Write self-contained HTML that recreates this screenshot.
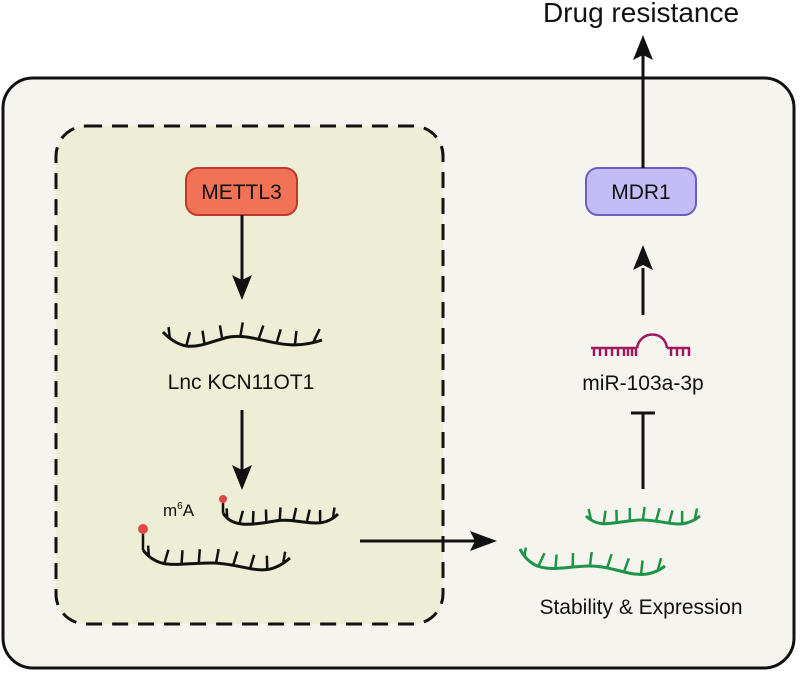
<!DOCTYPE html>
<html><head><style>
body{margin:0;background:#fff;}
svg{display:block;font-family:"Liberation Sans",Arial,sans-serif;}
</style></head><body>
<svg id="s" width="800" height="673" viewBox="0 0 800 673">
<rect x="3" y="78" width="791" height="590" rx="30" fill="#f5f4ef" stroke="#111" stroke-width="3"/>
<rect x="56" y="126" width="387" height="498" rx="30" fill="#eeeed6" stroke="#111" stroke-width="3" stroke-dasharray="16,10"/>
<text x="641" y="22" font-size="28" text-anchor="middle" fill="#111">Drug resistance</text>
<rect x="186" y="168" width="111" height="47" rx="12" fill="#f07358" stroke="#c0392b" stroke-width="2"/>
<text x="241.5" y="199" font-size="21" text-anchor="middle" fill="#111">METTL3</text>
<rect x="586" y="168" width="110" height="47" rx="12" fill="#c3bcf6" stroke="#6b5fbf" stroke-width="2"/>
<text x="641" y="199" font-size="21" text-anchor="middle" fill="#111">MDR1</text>
<g stroke="#111" stroke-width="3" fill="#111">
<line x1="242" y1="215" x2="242" y2="280"/><polygon points="232,275 242,280 252,275 242,300" stroke="none"/>
<line x1="242" y1="410" x2="242" y2="470"/><polygon points="232,465 242,470 252,465 242,490" stroke="none"/>
<line x1="360" y1="541" x2="475" y2="541"/><polygon points="470,531 475,541 470,551 497,541" stroke="none"/>
<line x1="643" y1="315" x2="643" y2="268"/><polygon points="633,270 643,265 653,270 643,245" stroke="none"/>
<line x1="643" y1="168" x2="643" y2="55"/><polygon points="633,60 643,55 653,60 643,35" stroke="none"/>
<line x1="643" y1="413" x2="643" y2="489"/><line x1="631" y1="413" x2="655" y2="413"/>
</g>
<text x="241" y="389" font-size="21" text-anchor="middle" fill="#111">Lnc KCN11OT1</text>
<text x="643" y="390" font-size="21" text-anchor="middle" fill="#111">miR-103a-3p</text>
<text x="641" y="614" font-size="21" text-anchor="middle" fill="#111">Stability &amp; Expression</text>
<text x="163" y="516" font-size="17" fill="#111">m<tspan font-size="10" dy="-7">6</tspan><tspan dy="7">A</tspan></text>
<line x1="223" y1="500" x2="223" y2="513" stroke="#111" stroke-width="2.5"/>
<circle cx="223" cy="499" r="4" fill="#e04848"/>
<line x1="143" y1="530" x2="143" y2="550" stroke="#111" stroke-width="2.5"/>
<circle cx="143" cy="529" r="5" fill="#e04848"/>
<g stroke="#a0185f" stroke-width="2.5" fill="none">
<line x1="591" y1="348" x2="637" y2="348"/>
<line x1="667" y1="348" x2="690" y2="348"/>
<path d="M637,348 C640,330 665,330 667,348"/>
<path d="M594,348v8M600,348v8M606,348v8M612,348v8M618,348v8M624,348v8M628,348v8M632,348v8M636,348v8M671,348v8M677,348v8M683,348v8M689,348v8"/>
</g>
<g id="rna"></g>
</svg>
<script>
var ns="http://www.w3.org/2000/svg",g=document.getElementById("rna");
function rna(d,col,n,len){
 var p=document.createElementNS(ns,"path");p.setAttribute("d",d);p.setAttribute("fill","none");p.setAttribute("stroke",col);p.setAttribute("stroke-width","3");g.appendChild(p);
 var L=p.getTotalLength(),s="";
 for(var i=0;i<n;i++){var t=L*(i+0.5)/n,a=p.getPointAtLength(t),b=p.getPointAtLength(Math.min(L,t+1));
  var dx=b.x-a.x,dy=b.y-a.y,m=Math.hypot(dx,dy)||1,nx=dy/m,ny=-dx/m; if(ny>0){nx=-nx;ny=-ny;}
  var k=(i==0)?-0.7:(i==n-1?0.7:0.12);
  var ex=a.x+(nx+k)*len,ey=a.y+ny*len;
  s+="M"+a.x+","+a.y+"L"+ex+","+ey;}
 var q=document.createElementNS(ns,"path");q.setAttribute("d",s);q.setAttribute("stroke",col);q.setAttribute("stroke-width","2.5");q.setAttribute("fill","none");g.appendChild(q);
}
rna("M163,332 C185,355 200,345 225,338 C255,330 280,355 322,340","#111",9,14);
rna("M223,513 C232,528 250,525 275,521 C300,517 320,532 338,514","#111",9,13);
rna("M143,550 C160,572 180,562 215,563 C250,565 265,580 290,558","#111",9,14);
rna("M586,516 C600,530 615,521 640,520 C665,519 680,532 700,516","#1e9446",9,13);
rna("M520,549 C535,578 560,566 590,566 C620,566 640,585 665,566","#1e9446",9,14);
</script>
</body></html>
